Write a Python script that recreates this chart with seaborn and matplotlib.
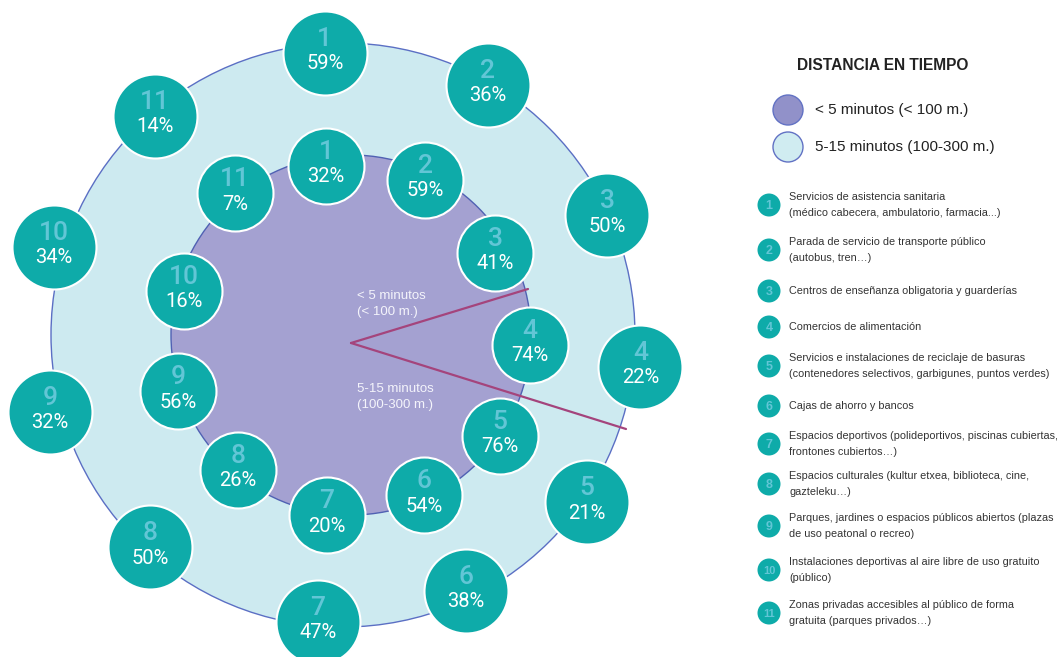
import numpy as np
import pandas as pd
import seaborn as sns
import matplotlib.pyplot as plt
from matplotlib.patches import Circle

sns.set_theme(style="white")
plt.rcParams['font.family'] = ['Roboto', 'DejaVu Sans']

# --- data ---
service_ids = [1, 2, 3, 4, 5, 6, 7, 8, 9, 10, 11]
pct_inner = [32, 59, 41, 74, 76, 54, 20, 26, 56, 16, 7]     # < 5 minutos
pct_outer = [59, 36, 50, 22, 21, 38, 47, 50, 32, 34, 14]    # 5-15 minutos
service_labels = [
    "Servicios de asistencia sanitaria\n(médico cabecera, ambulatorio, farmacia...)",
    "Parada de servicio de transporte público\n(autobus, tren…)",
    "Centros de enseñanza obligatoria y guarderías",
    "Comercios de alimentación",
    "Servicios e instalaciones de reciclaje de basuras\n(contenedores selectivos, garbigunes, puntos verdes)",
    "Cajas de ahorro y bancos",
    "Espacios deportivos (polideportivos, piscinas cubiertas,\nfrontones cubiertos…)",
    "Espacios culturales (kultur etxea, biblioteca, cine,\ngazteleku…)",
    "Parques, jardines o espacios públicos abiertos (plazas\nde uso peatonal o recreo)",
    "Instalaciones deportivas al aire libre de uso gratuito\n(público)",
    "Zonas privadas accesibles al público de forma\ngratuita (parques privados…)",
]
zone_labels = ["< 5 minutos (< 100 m.)", "5-15 minutos (100-300 m.)"]
legend_title = "DISTANCIA EN TIEMPO"

# --- layout (pixels, y down) ---
outer_c, outer_r = (343, 335), 292
inner_c, inner_r = (351, 335), 180
outer_ang = [93.7, 59.9, 24.4, -6.1, -34.4, -64.3, -95, -132.3, -165.3, 163, 130.6]
outer_rad = [283, 289, 290, 299, 296, 284, 288, 287, 303, 302, 289]
inner_ang = [98.4, 64.5, 29.7, -3.2, -34.1, -65.5, -97.6, -130, -162, 165.2, 129.2]
inner_rad = [171, 172, 166, 179, 180, 176, 182, 176, 182, 173, 183]

teal = "#0eaba9"
num_col = "#62c6d6"
W, H = 1061, 657
narrow = ['Liberation Sans', 'DejaVu Sans']


def ring_df(center, ang, rad, pct):
    a = np.deg2rad(ang)
    return pd.DataFrame({
        "id": service_ids,
        "pct": pct,
        "x": center[0] + np.array(rad) * np.cos(a),
        "y": center[1] - np.array(rad) * np.sin(a),
    })


df_out = ring_df(outer_c, outer_ang, outer_rad, pct_outer)
df_in = ring_df(inner_c, inner_ang, inner_rad, pct_inner)

fig = plt.figure(figsize=(W / 100, H / 100), dpi=100)
ax = fig.add_axes([0, 0, 1, 1])
ax.set_xlim(0, W)
ax.set_ylim(H, 0)
ax.set_aspect("equal")
ax.axis("off")

ax.add_patch(Circle(outer_c, outer_r, fc="#cdeaf0", ec="#5b6fc4", lw=1, zorder=1))
ax.add_patch(Circle(inner_c, inner_r, fc="#a4a1d1", ec="#5061b3", lw=1, zorder=2))

# pointer lines
apex = (351, 343)
ax.plot([apex[0], 528], [apex[1], 289], color="#a4447c", lw=1.6, zorder=3)
ax.plot([apex[0], 626], [apex[1], 429], color="#a4447c", lw=1.6, zorder=3)
ax.text(357, 304, "< 5 minutos\n(< 100 m.)", color="#f4f4fb", fontsize=9.5,
        va="center", ha="left", linespacing=1.45, zorder=3, family=narrow)
ax.text(357, 397, "5-15 minutos\n(100-300 m.)", color="#f4f4fb", fontsize=9.5,
        va="center", ha="left", linespacing=1.45, zorder=3, family=narrow)


def draw_bubbles(df, r_px, fs_num, fs_pct):
    s = (2 * r_px * 0.72) ** 2
    sns.scatterplot(data=df, x="x", y="y", s=s, color=teal, edgecolor="white",
                    linewidth=1.5, ax=ax, zorder=5, legend=False)
    for _, row in df.iterrows():
        ax.text(row.x, row.y - 14, str(int(row.id)), color=num_col, fontsize=fs_num,
                ha="center", va="center", fontweight="medium", zorder=6)
        ax.text(row.x, row.y + 11, f"{int(row.pct)}%", color="white", fontsize=fs_pct,
                ha="center", va="center", fontweight="normal", zorder=6)


draw_bubbles(df_in, 38, 19, 14.5)
draw_bubbles(df_out, 42, 19, 14.5)

# legend: zones
ax.text(883, 66, legend_title, fontsize=11.2, fontweight="bold", color="#222222",
        ha="center", va="center", family=narrow)
leg_y = [110, 147]
sns.scatterplot(x=[788, 788], y=leg_y, s=(30 * 0.72) ** 2, color="#9191c9",
                edgecolor="#6272c4", linewidth=1, ax=ax, zorder=5, legend=False)
ax.collections[-1].set_facecolors(["#9191c9", "#d0ecf1"])
for yy, lab in zip(leg_y, zone_labels):
    ax.text(815, yy, lab, fontsize=11, color="#222222", ha="left", va="center",
            family=narrow)

# legend: services
item_y = [205, 250, 291, 327, 366, 406, 444, 484, 526, 570, 613]
sns.scatterplot(x=[769] * len(item_y), y=item_y, s=(23 * 0.72) ** 2, color=teal,
                edgecolor="none", ax=ax, zorder=5, legend=False)
for yy, sid, lab in zip(item_y, service_ids, service_labels):
    ax.text(769, yy + 1, str(sid), fontsize=9 if sid < 10 else 8, color=num_col,
            ha="center", va="center", fontweight="bold", zorder=6, family=narrow)
    ax.text(789, yy, lab, fontsize=7.8, color="#333333", ha="left", va="center",
            linespacing=1.75, family=narrow)

fig.savefig("out.png", dpi=100)
